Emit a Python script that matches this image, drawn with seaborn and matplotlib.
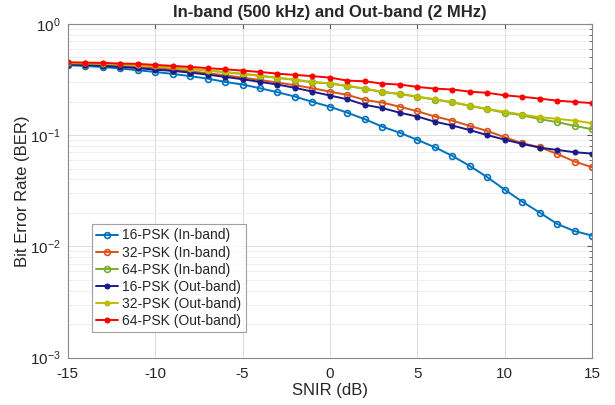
import numpy as np
import pandas as pd
import matplotlib
matplotlib.use('Agg')
from matplotlib import pyplot as plt
import seaborn as sns

sns.set_style('whitegrid')
plt.rcParams['font.family'] = ['Liberation Sans', 'DejaVu Sans']
plt.rcParams['axes.unicode_minus'] = False

snir = list(range(-15, 16))

ber_16psk_in = [0.425, 0.418, 0.410, 0.398, 0.383, 0.370, 0.355, 0.339, 0.322, 0.301,
                0.285, 0.264, 0.243, 0.222, 0.199, 0.180, 0.159, 0.139, 0.119, 0.105,
                0.0906, 0.0778, 0.065, 0.0528, 0.0418, 0.0323, 0.0252, 0.0201, 0.0159,
                0.0137, 0.0125]
ber_32psk_in = [0.434, 0.431, 0.425, 0.416, 0.408, 0.399, 0.388, 0.375, 0.360, 0.345,
                0.329, 0.313, 0.297, 0.281, 0.264, 0.246, 0.230, 0.207, 0.196, 0.180,
                0.164, 0.147, 0.135, 0.121, 0.109, 0.0957, 0.0846, 0.0778, 0.0677,
                0.0578, 0.0514]
ber_64psk_in = [0.443, 0.440, 0.437, 0.431, 0.425, 0.417, 0.405, 0.394, 0.380, 0.368,
                0.355, 0.341, 0.327, 0.314, 0.299, 0.291, 0.276, 0.261, 0.244, 0.234,
                0.221, 0.209, 0.197, 0.183, 0.171, 0.159, 0.151, 0.139, 0.131, 0.121,
                0.113]
ber_16psk_out = [0.431, 0.428, 0.419, 0.411, 0.400, 0.388, 0.378, 0.365, 0.350, 0.334,
                 0.318, 0.301, 0.285, 0.266, 0.246, 0.227, 0.210, 0.187, 0.175, 0.159,
                 0.147, 0.132, 0.122, 0.111, 0.100, 0.0911, 0.0834, 0.0772, 0.0736,
                 0.0702, 0.0682]
ber_32psk_out = [0.444, 0.441, 0.438, 0.432, 0.426, 0.418, 0.406, 0.395, 0.381, 0.369,
                 0.356, 0.342, 0.328, 0.315, 0.300, 0.293, 0.277, 0.262, 0.245, 0.235,
                 0.222, 0.210, 0.198, 0.184, 0.172, 0.162, 0.153, 0.145, 0.140, 0.135,
                 0.128]
ber_64psk_out = [0.452, 0.449, 0.446, 0.440, 0.437, 0.428, 0.419, 0.411, 0.400, 0.391,
                 0.380, 0.370, 0.357, 0.348, 0.339, 0.329, 0.309, 0.305, 0.290, 0.285,
                 0.271, 0.262, 0.257, 0.246, 0.240, 0.228, 0.221, 0.213, 0.204, 0.199,
                 0.194]

series = [
    ('16-PSK (In-band)', ber_16psk_in, '#0072BD', True),
    ('32-PSK (In-band)', ber_32psk_in, '#D95319', True),
    ('64-PSK (In-band)', ber_64psk_in, '#77AC30', True),
    ('16-PSK (Out-band)', ber_16psk_out, '#1A1A8C', False),
    ('32-PSK (Out-band)', ber_32psk_out, '#BDBD00', False),
    ('64-PSK (Out-band)', ber_64psk_out, '#FF0000', False),
]

fig = plt.figure(figsize=(6.15, 4.05), dpi=100)
ax = fig.add_axes([0.110, 0.117, 0.853, 0.824])

for name, vals, color, hollow in series:
    df = pd.DataFrame({'snir': snir, 'ber': vals})
    if hollow:
        sns.lineplot(data=df, x='snir', y='ber', ax=ax, color=color, label=name,
                     marker='o', markersize=4.2, markerfacecolor='none',
                     markeredgecolor=color, markeredgewidth=1.2, linewidth=1.4)
    else:
        sns.lineplot(data=df, x='snir', y='ber', ax=ax, color=color, label=name,
                     marker='o', markersize=3.6, markerfacecolor=color,
                     markeredgecolor=color, linewidth=1.4)

ax.set_yscale('log')
ax.set_xlim(-15, 15)
ax.set_ylim(1e-3, 1)
ax.set_xticks(range(-15, 16, 5))

ax.grid(True, which='major', color='#dcdcdc', linewidth=0.7)
ax.grid(True, which='minor', axis='y', color='#ececec', linewidth=0.6)
ax.tick_params(which='both', direction='in', top=True, right=True, labelsize=11,
               color='#555555')
ax.tick_params(axis='x', pad=7)
ax.tick_params(axis='y', pad=5)
for sp in ax.spines.values():
    sp.set_color('#888888')
    sp.set_linewidth(0.8)

ax.set_xlabel('SNIR (dB)', fontsize=12, labelpad=1)
ax.set_ylabel('Bit Error Rate (BER)', fontsize=12, labelpad=0)
ax.set_title('In-band (500 kHz) and Out-band (2 MHz)', fontsize=12,
             fontweight='bold', pad=5)

leg = ax.legend(loc='lower left', bbox_to_anchor=(0.046, 0.077), fontsize=10,
                frameon=True, fancybox=False, handlelength=1.6, handletextpad=0.3,
                labelspacing=0.22, borderpad=0.3, borderaxespad=0)
leg.get_frame().set_edgecolor('#888888')
leg.get_frame().set_linewidth(0.8)

fig.savefig('out.png', dpi=100)
